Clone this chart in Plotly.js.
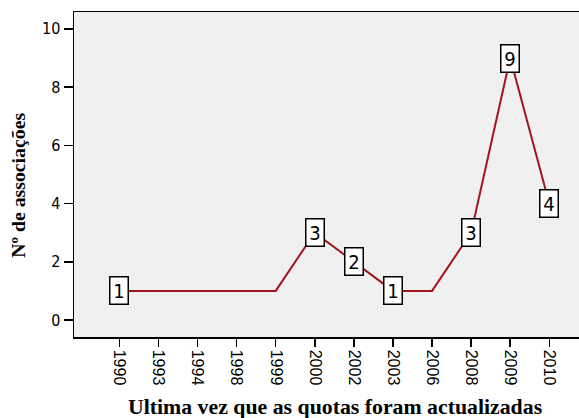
<!DOCTYPE html>
<html>
<head>
<meta charset="utf-8">
<script src="https://cdn.plot.ly/plotly-3.0.1.min.js"></script>
<style>html,body{margin:0;padding:0;background:#fff;}#chart{width:579px;height:418px;}</style>
</head>
<body>
<div id="chart"></div>
<script>
var years = ["1990","1993","1994","1998","1999","2000","2002","2003","2006","2008","2009","2010"];
var counts = [1,1,1,1,1,3,2,1,1,3,9,4];
var labeledYears = ["1990","2000","2002","2003","2008","2009","2010"];
var yTicks = [0,2,4,6,8,10];
var xTitle = "Ultima vez que as quotas foram actualizadas";
var yTitle = "Nº de associações";

var narrow = "Liberation Sans Narrow, Arial Narrow, DejaVu Sans Condensed, Liberation Sans, Arial, sans-serif";
var sans = "Liberation Sans, Arial, sans-serif";
var serif = "Liberation Serif, Times New Roman, serif";

var annotations = labeledYears.map(function(y){
  var i = years.indexOf(y);
  return {
    x: i, y: counts[i], xref: 'x', yref: 'y',
    text: String(counts[i]), showarrow: false,
    font: {family: narrow, size: 20, color: '#000'},
    bgcolor: '#ffffff', bordercolor: '#000000', borderwidth: 1.5, borderpad: 1,
    width: 15, height: 24, xanchor: 'center', yanchor: 'middle'
  };
});

annotations.push({
  text: xTitle, xref: 'paper', yref: 'paper', x: 0.517, y: -0.215,
  xanchor: 'center', yanchor: 'middle', showarrow: false,
  font: {family: serif, size: 21.8, color: '#000', weight: 'bold'}
});
annotations.push({
  text: yTitle, xref: 'paper', yref: 'paper', x: -0.111, y: 0.468,
  xanchor: 'center', yanchor: 'middle', showarrow: false, textangle: -90,
  font: {family: serif, size: 19.8, color: '#000', weight: 'bold'}
});

var trace = {
  x: years, y: counts, type: 'scatter', mode: 'lines',
  line: {color: '#A3151C', width: 2},
  hoverinfo: 'skip'
};

var layout = {
  width: 579, height: 418,
  margin: {l: 74, r: 0, t: 12, b: 81},
  paper_bgcolor: '#ffffff', plot_bgcolor: '#F0F0F0',
  showlegend: false,
  xaxis: {
    type: 'category', range: [-1.16, 11.76],
    tickangle: 90, ticks: 'outside', ticklen: 8, tickwidth: 1.5, tickcolor: '#000',
    tickfont: {family: sans, size: 16, color: '#000'},
    showline: true, linecolor: '#000', linewidth: 1.5, mirror: true,
    showgrid: false, zeroline: false
  },
  yaxis: {
    range: [-0.584, 10.58], tickvals: yTicks,
    ticks: 'outside', ticklen: 9, tickwidth: 1.5, tickcolor: '#000',
    tickfont: {family: narrow, size: 16, color: '#000'},
    showline: true, linecolor: '#000', linewidth: 1.5,
    showgrid: false, zeroline: false
  },
  annotations: annotations
};

Plotly.newPlot('chart', [trace], layout, {staticPlot: true, displayModeBar: false});
</script>
</body>
</html>
